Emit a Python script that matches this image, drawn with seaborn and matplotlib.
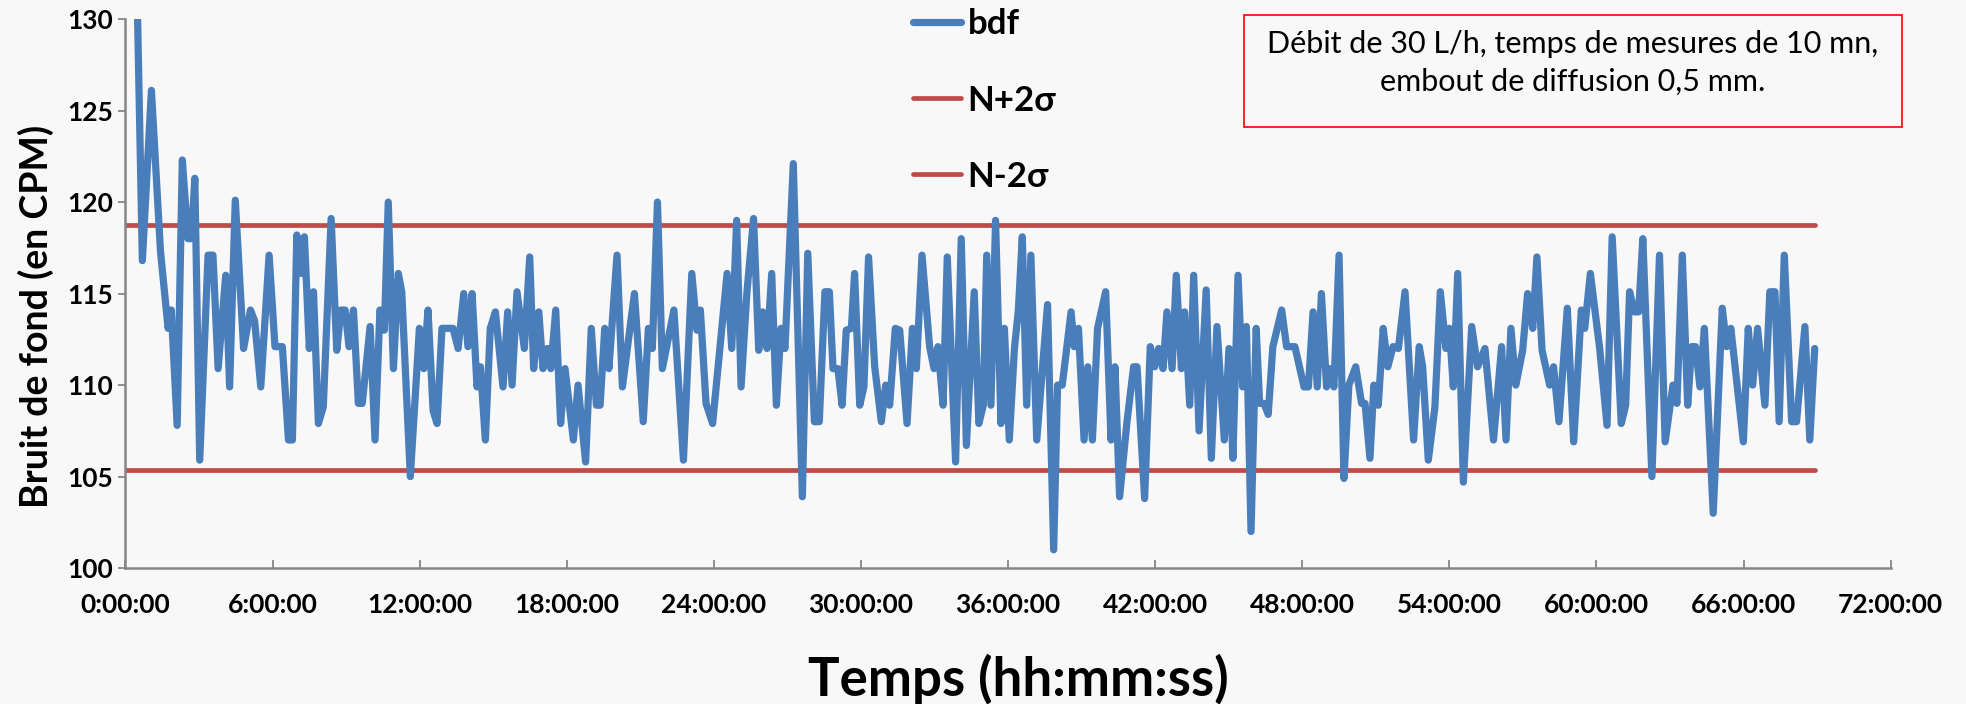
import matplotlib
matplotlib.use("Agg")
import matplotlib.pyplot as plt
import seaborn as sns
import pandas as pd
from matplotlib.lines import Line2D
from matplotlib.patches import Rectangle

# ---- data (time in hours, background noise in CPM) ----
hours = [
    0.38, 0.69, 1.06, 1.43, 1.74, 1.87, 2.11, 2.32, 2.55, 2.69, 2.83, 3.03, 3.37, 3.57, 3.78,
    4.09, 4.25, 4.48, 4.82, 5.10, 5.27, 5.52,
    5.86, 6.10, 6.40, 6.65, 6.81, 6.99, 7.16, 7.30, 7.50, 7.67, 7.87, 8.07, 8.39, 8.62, 8.79,
    8.96, 9.12, 9.30, 9.50, 9.66, 9.98, 10.18, 10.38, 10.56, 10.72, 10.93, 11.13, 11.27,
    11.62, 11.99, 12.17, 12.34, 12.55, 12.71, 12.91, 13.36, 13.57, 13.80, 13.97, 14.14, 14.34,
    14.48, 14.68, 14.88, 15.09, 15.40, 15.59, 15.77, 15.97, 16.27, 16.49, 16.65, 16.86, 17.03,
    17.21, 17.35, 17.55, 17.75, 17.93, 18.27, 18.46, 18.77, 19.00, 19.21, 19.36, 19.55, 19.72,
    20.05, 20.27, 20.76, 21.12, 21.33, 21.49, 21.70, 21.90, 22.37, 22.76,
    23.10, 23.31, 23.45, 23.68, 23.95, 24.54, 24.73, 24.93, 25.11, 25.35, 25.62, 25.83, 25.99,
    26.17, 26.36, 26.55, 26.74, 26.90, 27.24, 27.61, 27.83, 28.10, 28.30, 28.53, 28.71,
    28.86, 29.06, 29.23, 29.40, 29.61, 29.74, 29.95, 30.12, 30.31, 30.56, 30.83, 31.01, 31.17,
    31.40, 31.58, 31.88, 32.10, 32.26, 32.49, 32.80, 32.98, 33.14, 33.35, 33.52, 33.86, 34.09,
    34.30,
    34.62, 34.81, 34.99, 35.13, 35.30, 35.49, 35.71, 35.85, 36.05, 36.26, 36.42, 36.58, 36.76,
    36.93, 37.17, 37.61, 37.86, 38.02, 38.21, 38.57, 38.70, 38.87, 39.10, 39.25, 39.44, 39.65,
    39.98, 40.20, 40.36,
    40.55, 40.85, 41.12, 41.26, 41.57, 41.80, 41.98, 42.14, 42.32, 42.48, 42.69, 42.86, 43.07,
    43.20, 43.41, 43.57, 43.79, 44.08, 44.29, 44.52, 44.82, 45.01, 45.17, 45.38, 45.57, 45.72,
    45.91, 46.12,
    46.26, 46.44, 46.61, 46.80, 46.98, 47.16, 47.36, 47.70, 48.07, 48.25, 48.44, 48.61, 48.78,
    48.99, 49.16, 49.29, 49.50, 49.70, 49.90, 50.18, 50.42, 50.56, 50.76, 50.92, 51.10, 51.30,
    51.49, 51.70, 51.92,
    52.19, 52.54, 52.77, 52.91, 53.14, 53.41, 53.63, 53.86, 54.00, 54.16, 54.34, 54.57, 54.91,
    55.15, 55.45, 55.80, 56.13, 56.31, 56.51, 56.71, 56.99, 57.19, 57.40, 57.57, 57.78,
    58.09, 58.25, 58.47, 58.81, 59.07, 59.38, 59.52, 59.75, 60.13, 60.43, 60.64, 61.01, 61.19,
    61.35, 61.55, 61.72, 61.89, 62.26, 62.57, 62.80, 63.12, 63.28, 63.50,
    63.72, 63.88, 64.04, 64.22, 64.40, 64.76, 65.13, 65.31, 65.48, 65.99, 66.19, 66.37, 66.57,
    66.87, 67.07, 67.28, 67.45, 67.66, 67.96, 68.16, 68.50, 68.70, 68.90,
]
bdf = [
    138.0, 116.8, 126.1, 117.3, 113.1, 114.1, 107.8, 122.3, 118.0, 118.0, 121.3, 105.9, 117.1, 117.1, 110.9,
    116.0, 109.9, 120.1, 112.0, 114.1, 113.5, 109.9,
    117.1, 112.1, 112.1, 107.0, 107.0, 118.2, 116.1, 118.1, 112.0, 115.1, 107.9, 108.8, 119.1, 111.9, 114.1,
    114.1, 112.1, 114.1, 109.0, 109.0, 113.2, 107.0, 114.1, 113.0, 120.0, 110.9, 116.1, 115.1,
    105.0, 113.1, 110.9, 114.1, 108.6, 107.9, 113.1, 113.1, 112.0, 115.0, 112.1, 115.0, 109.9,
    111.0, 107.0, 113.1, 114.0, 109.9, 114.0, 110.0, 115.1, 112.0, 117.0, 110.9, 114.0, 110.9,
    112.0, 110.9, 114.1, 107.9, 110.9, 107.0, 110.0, 105.8, 113.1, 108.9, 108.9, 113.1, 110.9,
    117.1, 109.9, 115.0, 108.0, 113.1, 112.0, 120.0, 110.9, 114.1, 105.9,
    116.1, 113.0, 114.1, 109.0, 107.9, 116.1, 112.0, 119.0, 109.9, 115.1, 119.1, 111.9, 114.0,
    112.0, 116.1, 108.9, 113.1, 112.0, 122.1, 103.9, 117.2, 108.0, 108.0, 115.1, 115.1,
    110.9, 110.9, 108.9, 113.0, 113.1, 116.1, 108.9, 109.9, 117.0, 111.0, 108.0, 110.0, 108.9,
    113.1, 113.0, 107.9, 113.1, 110.9, 117.1, 112.1, 110.9, 112.1, 108.9, 117.0, 105.8, 118.0,
    106.7,
    115.1, 107.9, 108.9, 117.1, 108.9, 119.0, 107.9, 113.1, 107.0, 112.0, 114.1, 118.1, 108.9,
    117.1, 107.0, 114.4, 101.0, 110.0, 110.0, 114.0, 112.1, 113.1, 107.0, 111.0, 107.0, 113.1,
    115.1, 107.0, 111.0,
    103.9, 108.0, 111.0, 111.0, 103.8, 112.1, 111.0, 112.0, 110.9, 114.0, 110.9, 116.0, 110.9,
    114.0, 108.9, 116.0, 107.5, 115.2, 106.0, 113.2, 107.0, 112.0, 106.0, 116.0, 109.9, 113.2,
    102.0, 113.1,
    109.0, 109.0, 108.4, 112.1, 113.1, 114.1, 112.1, 112.1, 109.9, 109.9, 114.0, 109.9, 115.0,
    109.9, 110.9, 109.9, 117.1, 104.9, 110.0, 111.0, 109.0, 109.0, 106.0, 110.0, 108.9, 113.1,
    111.0, 112.1, 112.0,
    115.1, 107.0, 112.1, 111.0, 105.9, 108.8, 115.1, 112.0, 113.1, 109.9, 116.1, 104.7, 113.2,
    111.0, 112.0, 107.0, 112.1, 107.0, 113.1, 110.0, 111.9, 115.0, 113.1, 117.0, 111.9,
    110.0, 111.0, 108.0, 114.2, 106.9, 114.1, 113.1, 116.1, 112.0, 107.8, 118.1, 107.9, 108.9,
    115.1, 114.0, 114.0, 118.0, 105.0, 117.1, 106.9, 110.0, 109.0, 117.1,
    108.9, 112.1, 112.1, 109.9, 113.1, 103.0, 114.2, 112.1, 113.1, 106.9, 113.1, 110.0, 113.1,
    108.9, 115.1, 115.1, 108.0, 117.1, 108.0, 108.0, 113.2, 107.0, 112.0,
]
n_plus_2sigma = 118.75
n_minus_2sigma = 105.36
limit_hours = [0.0, 68.90]

y_ticks = [100, 105, 110, 115, 120, 125, 130]
x_ticks = [0, 6, 12, 18, 24, 30, 36, 42, 48, 54, 60, 66, 72]
x_tick_labels = ["0:00:00", "6:00:00", "12:00:00", "18:00:00", "24:00:00", "30:00:00",
                 "36:00:00", "42:00:00", "48:00:00", "54:00:00", "60:00:00", "66:00:00",
                 "72:00:00"]
legend_labels = ["bdf", "N+2\u03c3", "N-2\u03c3"]
note_lines = ["D\u00e9bit de 30 L/h, temps de mesures de 10 mn,",
              "embout de diffusion 0,5 mm."]

# ---- style ----
sns.set_theme(style="white")
plt.rcParams["font.family"] = ["Lato", "DejaVu Sans"]
plt.rcParams["text.color"] = "black"
BG = "#f8f8f8"
BLUE = "#4a7ebb"
RED = "#be4b48"
AXC = "#868686"

fig = plt.figure(figsize=(19.66, 7.04), dpi=100, facecolor=BG)
ax = fig.add_axes([0.0638, 0.193, 0.8979, 0.780])
ax.set_facecolor(BG)

df = pd.DataFrame({"t": hours, "v": bdf})
lim_df = pd.DataFrame({"t": limit_hours * 2,
                       "v": [n_plus_2sigma] * 2 + [n_minus_2sigma] * 2,
                       "s": ["up", "up", "lo", "lo"]})

sns.lineplot(data=lim_df[lim_df.s == "up"], x="t", y="v", ax=ax, color=RED, lw=3.4,
             solid_capstyle="round", sort=False, estimator=None)
sns.lineplot(data=lim_df[lim_df.s == "lo"], x="t", y="v", ax=ax, color=RED, lw=3.4,
             solid_capstyle="round", sort=False, estimator=None)
sns.lineplot(data=df, x="t", y="v", ax=ax, color=BLUE, lw=5.2, sort=False, estimator=None,
             solid_joinstyle="round", solid_capstyle="round")

ax.set_xlim(0, 72)
ax.set_ylim(100, 130)
ax.set_yticks(y_ticks)
ax.set_yticklabels([str(v) for v in y_ticks], fontsize=19, fontweight="bold")
ax.set_xticks(x_ticks)
ax.set_xticklabels(x_tick_labels, fontsize=19, fontweight="bold")
ax.tick_params(axis="x", direction="in", length=6, width=1.3, color=AXC, pad=18,
               labelcolor="black", bottom=True)
ax.tick_params(axis="y", direction="out", length=5, width=1.3, color=AXC, pad=4,
               labelcolor="black", left=True)
for s in ["top", "right"]:
    ax.spines[s].set_visible(False)
for s in ["left", "bottom"]:
    ax.spines[s].set_color(AXC)
    ax.spines[s].set_linewidth(1.8)
ax.set_xlabel("")
ax.set_ylabel("")

fig.text(1018 / 1966, 1 - 679 / 704, "Temps (hh:mm:ss)", ha="center", va="center",
         fontsize=38, fontweight="bold")
fig.text(36 / 1966, 1 - 316 / 704, "Bruit de fond (en CPM)", ha="center", va="center",
         rotation=90, fontsize=27, fontweight="bold")

handles = [Line2D([], [], color=BLUE, lw=5.2),
           Line2D([], [], color=RED, lw=3.4),
           Line2D([], [], color=RED, lw=3.4)]
leg = fig.legend(handles, legend_labels, loc="upper left", bbox_to_anchor=(0.4644, 0.988),
                 frameon=False, prop={"size": 25, "weight": "bold"}, labelspacing=1.27,
                 handlelength=1.37, handletextpad=0.2, borderpad=0, borderaxespad=0)

# note box
fig.patches.append(Rectangle((1244 / 1966, 1 - 127 / 704), 658 / 1966, 112 / 704,
                             transform=fig.transFigure, fill=False, edgecolor="#ff0000",
                             lw=1.2))
fig.text(1573 / 1966, 1 - 44 / 704, note_lines[0], ha="center", va="center", fontsize=22)
fig.text(1573 / 1966, 1 - 82 / 704, note_lines[1], ha="center", va="center", fontsize=22)

fig.savefig("out.png", dpi=100, facecolor=BG)
